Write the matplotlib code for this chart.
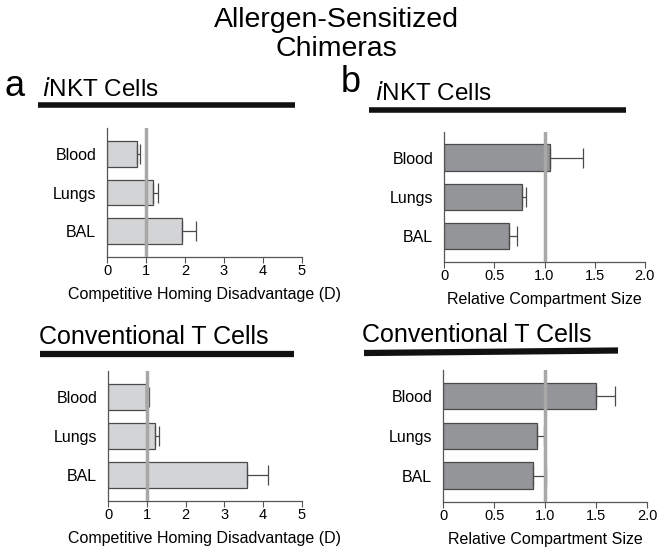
import matplotlib
matplotlib.use("Agg")
import matplotlib.pyplot as plt
from matplotlib.lines import Line2D

plt.rcParams['font.family'] = ['Liberation Sans', 'DejaVu Sans']

categories = ['Blood', 'Lungs', 'BAL']

inkt_D = [0.77, 1.17, 1.91]
inkt_D_err = [0.07, 0.13, 0.37]
inkt_size = [1.05, 0.78, 0.65]
inkt_size_err = [0.33, 0.04, 0.08]

conv_D = [0.97, 1.22, 3.59]
conv_D_err = [0.08, 0.10, 0.55]
conv_size = [1.50, 0.92, 0.88]
conv_size_err = [0.18, 0.07, 0.13]

D_ticks = [0, 1, 2, 3, 4, 5]
D_ticklabels = ['0', '1', '2', '3', '4', '5']
size_ticks = [0, 0.5, 1.0, 1.5, 2.0]
size_ticklabels = ['0', '0.5', '1.0', '1.5', '2.0']

W, H = 670, 551
fig = plt.figure(figsize=(W / 100, H / 100), dpi=100)
fig.patch.set_facecolor('white')


def px_axes(x0, x1, y0, y1):
    return fig.add_axes([x0 / W, 1 - y1 / H, (x1 - x0) / W, (y1 - y0) / H])


def panel(ax, vals, errs, color, xmax, ticks, ticklabels, xlabel):
    ypos = list(range(len(categories)))
    ax.barh(ypos, vals, height=0.67, color=color, edgecolor='#4a4a4a', linewidth=0.9, zorder=2)
    ax.errorbar(vals, ypos, xerr=[[0] * len(vals), errs], fmt='none', ecolor='#4a4a4a',
                elinewidth=0.9, capsize=7, capthick=0.9, zorder=3)
    ax.axvline(1.0, color='#a8a8a8', lw=2.5, zorder=4)
    ax.set_ylim(2.66, -0.66)
    ax.set_xlim(0, xmax)
    ax.set_yticks(ypos)
    ax.set_yticklabels(categories, fontsize=11.5)
    ax.set_xticks(ticks)
    ax.set_xticklabels(ticklabels, fontsize=10.5)
    ax.tick_params(axis='y', length=0, pad=8)
    ax.tick_params(axis='x', length=4, width=0.8, color='#555555', pad=1.5)
    for s in ['top', 'right']:
        ax.spines[s].set_visible(False)
    for s in ['left', 'bottom']:
        ax.spines[s].set_color('#555555')
        ax.spines[s].set_linewidth(0.9)
    ax.set_xlabel(xlabel, fontsize=11.5, labelpad=6)
    ax.set_facecolor('none')


light = '#d3d4d6'
dark = '#949598'

ax1 = px_axes(107.3, 301.7, 128.3, 256.7)
panel(ax1, inkt_D, inkt_D_err, light, 5, D_ticks, D_ticklabels, 'Competitive Homing Disadvantage (D)')
ax2 = px_axes(444.3, 644.7, 131.7, 261.7)
panel(ax2, inkt_size, inkt_size_err, dark, 2.0, size_ticks, size_ticklabels, 'Relative Compartment Size')
ax3 = px_axes(108.3, 301.7, 371, 500.7)
panel(ax3, conv_D, conv_D_err, light, 5, D_ticks, D_ticklabels, 'Competitive Homing Disadvantage (D)')
ax4 = px_axes(443.3, 647.3, 370, 501.7)
panel(ax4, conv_size, conv_size_err, dark, 2.0, size_ticks, size_ticklabels, 'Relative Compartment Size')


def ftext(x, y, s, **kw):
    fig.text(x / W, 1 - y / H, s, **kw)


def fline(x0, x1, y0, y1, lw):
    fig.add_artist(Line2D([x0 / W, x1 / W], [1 - y0 / H, 1 - y1 / H], color='#111111', lw=lw,
                          transform=fig.transFigure, solid_capstyle='butt'))


ftext(336, 20, 'Allergen-Sensitized', ha='center', va='center', fontsize=20.5)
ftext(336, 49, 'Chimeras', ha='center', va='center', fontsize=20.5)

ftext(5, 86, 'a', ha='left', va='center', fontsize=26)
ftext(42, 90, r'$\it{i}$NKT Cells', ha='left', va='center', fontsize=17.5)
fline(38, 295, 105, 105, 4)

ftext(341, 82, 'b', ha='left', va='center', fontsize=26)
ftext(375, 93, r'$\it{i}$NKT Cells', ha='left', va='center', fontsize=17.5)
fline(369, 626, 109.5, 109.5, 4)

ftext(39, 337, 'Conventional T Cells', ha='left', va='center', fontsize=18)
fline(40, 294, 354, 354, 4.5)

ftext(362, 335, 'Conventional T Cells', ha='left', va='center', fontsize=18)
fline(364, 618, 353, 350.5, 4.5)

fig.savefig('out.png', dpi=100)
